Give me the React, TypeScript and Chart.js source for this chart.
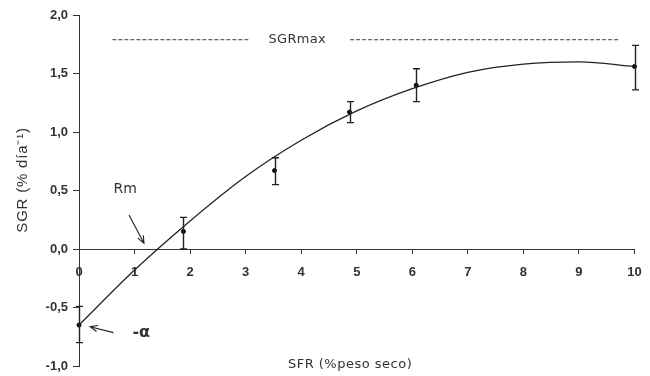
import React, { useEffect, useRef } from "react";
import { Chart, registerables } from "chart.js";

Chart.register(...registerables);

// Observed means and error bars
const sfrObs = [0, 1.88, 3.52, 4.87, 6.07, 10.0];
const sgrObs = [-0.65, 0.15, 0.67, 1.17, 1.4, 1.56];
const sgrLow = [-0.8, 0.0, 0.55, 1.08, 1.26, 1.36];
const sgrHigh = [-0.49, 0.27, 0.78, 1.26, 1.54, 1.74];

// Fitted curve
const fitSfr = [0, 1, 2, 3, 4, 5, 6, 7, 8, 9, 10];
const fitSgr = [-0.65, -0.18, 0.24, 0.62, 0.93, 1.18, 1.37, 1.51, 1.58, 1.6, 1.56];

// SGRmax reference line
const sgrMax = 1.79;
const sgrMaxLeft = [0.6, 3.05];
const sgrMaxRight = [4.88, 9.71];

// Axes
const xMin = 0;
const xMax = 10;
const yMin = -1;
const yMax = 2;
const yStep = 0.5;

// Labels
const xTitle = "SFR (%peso seco)";
const yTitle = "SGR (% día⁻¹)";
const sgrMaxLabel = "SGRmax";
const rmLabel = "Rm";
const aLabel = "-α";

const overlay = {
  id: "overlay",
  afterDatasetsDraw(chart: any) {
    const { ctx, scales } = chart;
    const x = scales.x;
    const y = scales.y;
    ctx.save();
    // error bars
    ctx.strokeStyle = "#222";
    ctx.lineWidth = 1.4;
    sfrObs.forEach((v, i) => {
      const px = Math.round(x.getPixelForValue(v)) + 0.5;
      const top = y.getPixelForValue(sgrHigh[i]);
      const bot = y.getPixelForValue(sgrLow[i]);
      ctx.beginPath();
      ctx.moveTo(px, top);
      ctx.lineTo(px, bot);
      ctx.moveTo(px - 3.5, top);
      ctx.lineTo(px + 3.5, top);
      ctx.moveTo(px - 3.5, bot);
      ctx.lineTo(px + 3.5, bot);
      ctx.stroke();
    });
    // arrows
    const arrow = (x1: number, y1: number, x2: number, y2: number) => {
      const ax = x.getPixelForValue(x1);
      const ay = y.getPixelForValue(y1);
      const bx = x.getPixelForValue(x2);
      const by = y.getPixelForValue(y2);
      const ang = Math.atan2(by - ay, bx - ax);
      const L = 8;
      ctx.strokeStyle = "#222";
      ctx.lineWidth = 1.1;
      ctx.beginPath();
      ctx.moveTo(ax, ay);
      ctx.lineTo(bx, by);
      ctx.moveTo(bx - L * Math.cos(ang - 0.4), by - L * Math.sin(ang - 0.4));
      ctx.lineTo(bx, by);
      ctx.lineTo(bx - L * Math.cos(ang + 0.4), by - L * Math.sin(ang + 0.4));
      ctx.stroke();
    };
    arrow(0.9, 0.29, 1.17, 0.05);
    arrow(0.62, -0.715, 0.2, -0.664);

    // texts
    ctx.fillStyle = "#333";
    ctx.textAlign = "center";
    ctx.textBaseline = "middle";
    ctx.font = "13px 'DejaVu Sans'";
    (ctx as any).letterSpacing = "0.3px";
    ctx.fillText(sgrMaxLabel, x.getPixelForValue(3.93), y.getPixelForValue(sgrMax));
    (ctx as any).letterSpacing = "0px";
    ctx.font = "14px 'DejaVu Sans'";
    ctx.fillText(rmLabel, x.getPixelForValue(0.83), y.getPixelForValue(0.51));
    ctx.font = "13px 'DejaVu Sans'";
    (ctx as any).letterSpacing = "0.5px";
    ctx.fillText(xTitle, x.getPixelForValue(4.88), y.getPixelForValue(-0.985));
    (ctx as any).letterSpacing = "0px";
    ctx.font = "bold 16px 'DejaVu Sans'";
    ctx.fillText(aLabel, x.getPixelForValue(1.12), y.getPixelForValue(-0.72));
    // y title
    ctx.font = "15px 'Liberation Sans'";
    (ctx as any).letterSpacing = "0.8px";
    ctx.translate(23, y.getPixelForValue(0.59));
    ctx.rotate(-Math.PI / 2);
    ctx.fillText(yTitle, 0, 0);
    ctx.restore();
  },
};

export default function App() {
  const ref = useRef<HTMLCanvasElement | null>(null);
  useEffect(() => {
    if (!ref.current) return;
    Chart.defaults.font.family = "'Liberation Sans', Arial, sans-serif";
    const chart = new Chart(ref.current, {
      type: "scatter",
      data: {
        datasets: [
          {
            type: "line",
            data: fitSfr.map((v, i) => ({ x: v, y: fitSgr[i] })),
            borderColor: "#222",
            borderWidth: 1.3,
            pointRadius: 0,
            cubicInterpolationMode: "monotone",
            fill: false,
            clip: false as any,
          },
          {
            type: "line",
            data: sgrMaxLeft.map((v) => ({ x: v, y: sgrMax })),
            borderColor: "#666",
            borderWidth: 1.3,
            borderDash: [4, 2],
            pointRadius: 0,
            fill: false,
          },
          {
            type: "line",
            data: sgrMaxRight.map((v) => ({ x: v, y: sgrMax })),
            borderColor: "#666",
            borderWidth: 1.3,
            borderDash: [4, 2],
            pointRadius: 0,
            fill: false,
          },
          {
            type: "scatter",
            data: sfrObs.map((v, i) => ({ x: v, y: sgrObs[i] })),
            backgroundColor: "#000",
            borderColor: "#000",
            pointRadius: 2,
            clip: false as any,
          },
        ],
      },
      options: {
        animation: false,
        responsive: false,
        layout: { padding: { top: 15, right: 15.5, bottom: 10, left: 0 } },
        plugins: { legend: { display: false }, tooltip: { enabled: false } },
        scales: {
          x: {
            type: "linear",
            min: xMin,
            max: xMax,
            position: { y: 0 } as any,
            afterFit: (s: any) => {
              s.height = 0;
              s.paddingLeft = 0;
              s.paddingRight = 0;
              s.paddingTop = 0;
              s.paddingBottom = 0;
            },
            ticks: {
              stepSize: 1,
              autoSkip: false,
              maxRotation: 0,
              padding: 12,
              color: "#333",
              font: { size: 13, weight: "bold", family: "'Liberation Sans'" },
            },
            grid: { drawOnChartArea: false, drawTicks: true, tickLength: 4, color: "#333" },
            border: { color: "#333", width: 1 },
          },
          y: {
            type: "linear",
            min: yMin,
            max: yMax,
            afterFit: (s: any) => {
              s.width = 79;
              s.paddingTop = 0;
              s.paddingBottom = 0;
              s.paddingLeft = 0;
              s.paddingRight = 0;
            },
            ticks: {
              stepSize: yStep,
              padding: 5,
              color: "#333",
              font: { size: 13, weight: "bold", family: "'Liberation Sans'" },
              callback: (v: any) => Number(v).toFixed(1).replace(".", ","),
            },
            grid: { drawOnChartArea: false, drawTicks: true, tickLength: 6, color: "#333" },
            border: { color: "#333", width: 1 },
          },
        },
      },
      plugins: [overlay],
    });
    return () => chart.destroy();
  }, []);
  return (
    <div style={{ position: "absolute", left: 0, top: 0, width: 650, height: 376, background: "#fff" }}>
      <canvas ref={ref} width={650} height={376} />
    </div>
  );
}
